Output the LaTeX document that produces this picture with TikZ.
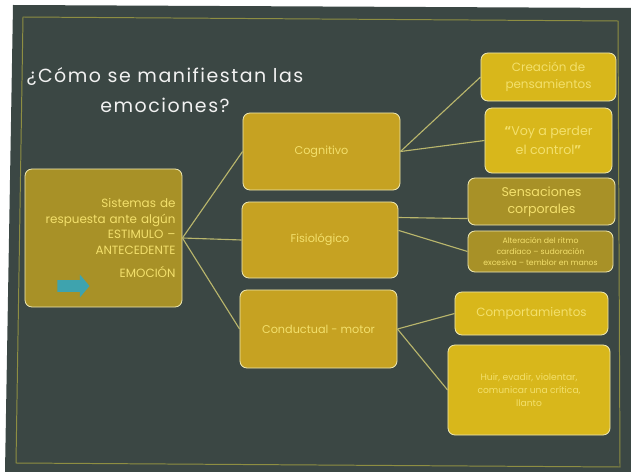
\documentclass[tikz,border=0pt]{standalone}
\usepackage{fontspec}
\setmainfont{Poppins}
\usetikzlibrary{arrows,shapes.arrows}
\definecolor{pizarra}{HTML}{3B4744}
\definecolor{marco}{HTML}{8E8E42}
\definecolor{ocre}{HTML}{A89127}
\definecolor{oro}{HTML}{C6A222}
\definecolor{amarillo}{HTML}{D8B71B}
\definecolor{borde}{HTML}{EDE6B0}
\definecolor{letra}{HTML}{F3E06C}
\definecolor{linea}{HTML}{B9B66C}
\definecolor{turquesa}{HTML}{3EA3AE}
\tikzstyle{caja}=[draw=borde,line width=0.6pt,rounded corners=5pt,inner sep=0pt,align=center,text=letra]
\tikzstyle{ocrebox}=[caja,fill=ocre]
\tikzstyle{orobox}=[caja,fill=oro,font=\fontsize{8}{10}\selectfont]
\tikzstyle{amarillobox}=[caja,fill=amarillo]
\tikzstyle{rama}=[draw=linea,line width=0.8pt]
\tikzstyle{titulo}=[text=white!90!gray,align=center,font=\fontsize{13.5}{21}\selectfont\addfontfeature{LetterSpace=8}]

\begin{document}
\begin{tikzpicture}[x=0.025cm,y=-0.025cm]
	% slide and frame
	\useasboundingbox (0,0) rectangle (631,472);
	\fill[white] (0,0) rectangle (631,472);
	\fill[pizarra] (13,5) -- (631,8) -- (631,472) -- (5,472) -- cycle;
	\draw[marco,line width=0.7pt] (23,17) -- (618,21) -- (620,467) -- (16,463) -- cycle;

	\node[titulo] (pregunta) at (165,90) {¿Cómo se manifiestan las\\emociones?};

	% left box
	\node[ocrebox,minimum width=3.925cm,minimum height=3.45cm,text width=3.6cm,align=right,
		font=\fontsize{8.5}{11.3}\selectfont] (estimulo) at (103.5,238)
		{Sistemas de\\respuesta ante algún\\ESTIMULO –\\ANTECEDENTE\\[5pt]EMOCIÓN};
	\node[single arrow,fill=turquesa,minimum height=0.8cm,
		single arrow head extend=0.14cm,single arrow tip angle=100,
		inner xsep=0pt,inner ysep=0.14cm] (flecha) at (71,286) {};

	% middle boxes
	\node[orobox,minimum width=3.925cm,minimum height=1.925cm] (cognitivo) at (321.5,151.5) {Cognitivo};
	\node[orobox,minimum width=3.9cm,minimum height=1.9cm] (fisiologico) at (320,240) {Fisiológico};
	\node[orobox,minimum width=3.925cm,minimum height=1.95cm] (conductual) at (318.5,329) {Conductual - motor};

	% right boxes
	\node[amarillobox,minimum width=3.375cm,minimum height=1.2cm,font=\fontsize{8.5}{12}\selectfont] (creacion) at (548.5,77) {Creación de\\pensamientos};
	\node[amarillobox,minimum width=3.175cm,minimum height=1.625cm,font=\fontsize{9}{13}\selectfont] (voy) at (548.5,140.5) {\textbf{“}Voy a perder\\el control\textbf{”}};
	\node[ocrebox,minimum width=3.675cm,minimum height=1.175cm,font=\fontsize{9}{12}\selectfont] (sensaciones) at (541.5,201.5) {Sensaciones\\corporales};
	\node[ocrebox,minimum width=3.625cm,minimum height=1.025cm,font=\fontsize{5.5}{7.5}\selectfont] (alteracion) at (540.5,251.5) {Alteración del ritmo\\cardíaco – sudoración\\excesiva – temblor en manos};
	\node[amarillobox,minimum width=3.825cm,minimum height=1.075cm,font=\fontsize{8.5}{10}\selectfont] (comportamientos) at (531.5,313.5) {Comportamientos};
	\node[amarillobox,minimum width=4.05cm,minimum height=2.25cm,font=\fontsize{6.5}{9}\selectfont] (huir) at (529,390) {Huir, evadir, violentar,\\comunicar una crítica,\\llanto};

	% branches
	\foreach \desde/\hasta in {estimulo.east/cognitivo.west, estimulo.east/fisiologico.west,
		estimulo.east/conductual.west, cognitivo.east/creacion.west, cognitivo.east/voy.west,
		fisiologico.16/sensaciones.193, fisiologico.7/alteracion.west,
		conductual.east/comportamientos.west, conductual.east/huir.west}
	\draw[rama] (\desde) -- (\hasta);
\end{tikzpicture}
\end{document}
